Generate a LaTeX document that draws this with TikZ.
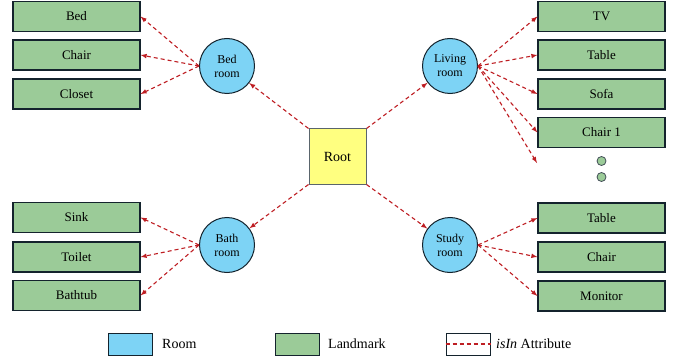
\documentclass[tikz,border=0pt]{standalone}
\usepackage{fontspec}
\setmainfont{Liberation Serif}
\definecolor{roomblue}{RGB}{125,211,245}
\definecolor{markgreen}{RGB}{155,203,152}
\definecolor{rootyellow}{RGB}{255,255,128}
\definecolor{linkred}{RGB}{190,30,35}
\definecolor{edgeline}{RGB}{20,35,45}

\begin{document}
\begin{tikzpicture}[x=1pt,y=-1pt]
        \useasboundingbox (0,0) rectangle (684,358);
        \tikzstyle{every node}=[font=\fontsize{13}{15}\selectfont, inner sep=0pt]
        \tikzstyle{landmark}=[draw=edgeline, fill=markgreen, line width=1.1pt, minimum width=127pt, minimum height=30pt]
        \tikzstyle{room}=[circle, draw=edgeline, fill=roomblue, line width=1pt, minimum size=55pt, align=center, font=\fontsize{12}{14}\selectfont]
        \tikzstyle{link}=[draw=linkred, line width=1.1pt, dash pattern=on 4pt off 3pt, -latex]
        % root and rooms
        \node[draw=edgeline!70, fill=rootyellow, line width=1pt, minimum width=57pt, minimum height=55pt, font=\fontsize{14}{16}\selectfont] (root) at (337.5,156.5) {Root};
        \node[room] (bedroom)    at (227, 66) {Bed\\room};
        \node[room] (livingroom) at (450, 66) {Living\\room};
        \node[room] (bathroom)   at (227,245) {Bath\\room};
        \node[room] (studyroom)  at (450,245) {Study\\room};
        % landmarks
        \node[landmark] (bed)     at (76.5, 16.5) {Bed};
        \node[landmark] (chair)   at (76.5, 55)   {Chair};
        \node[landmark] (closet)  at (76.5, 94)   {Closet};
        \node[landmark] (tv)      at (601.5, 16.5) {TV};
        \node[landmark] (table)   at (601.5, 55)   {Table};
        \node[landmark] (sofa)    at (601.5, 94)   {Sofa};
        \node[landmark] (chairone) at (601.5,132.5) {Chair 1};
        \node[circle, draw=edgeline!80, fill=markgreen, line width=0.8pt, minimum size=9pt] (dotA) at (601.5,161) {};
        \node[circle, draw=edgeline!80, fill=markgreen, line width=0.8pt, minimum size=9pt] (dotB) at (601.5,177) {};
        \coordinate (more) at (537,163);
        \node[landmark] (sink)    at (76.5,217.5) {Sink};
        \node[landmark] (toilet)  at (76.5,257)   {Toilet};
        \node[landmark] (bathtub) at (76.5,295.5) {Bathtub};
        \node[landmark] (desk)    at (601.5,218)  {Table};
        \node[landmark] (seat)    at (601.5,257)  {Chair};
        \node[landmark] (monitor) at (601.5,296)  {Monitor};
        % isIn links
        \draw[link] (root.north west) -- (bedroom);
        \draw[link] (root.north east) -- (livingroom);
        \draw[link] (root.south west) -- (bathroom);
        \draw[link] (root.south east) -- (studyroom);
        \foreach \lm in {bed,chair,closet}
            \draw[link] (bedroom.west) -- (\lm.east);
        \foreach \lm in {tv,table,sofa,chairone}
            \draw[link] (livingroom.east) -- (\lm.west);
        \draw[link] (livingroom.east) -- (more);
        \foreach \lm in {sink,toilet,bathtub}
            \draw[link] (bathroom.west) -- (\lm.east);
        \foreach \lm in {desk,seat,monitor}
            \draw[link] (studyroom.east) -- (\lm.west);
        % legend
        \tikzstyle{every node}=[inner sep=0pt, minimum width=44pt, minimum height=22pt, line width=1pt, draw=edgeline]
        \node[fill=roomblue]  (keyroom) at (130,344) {};
        \node[fill=markgreen] (keymark) at (297,344) {};
        \node[fill=white]     (keylink) at (468,344) {};
        \tikzstyle{every node}=[font=\fontsize{14}{16}\selectfont, inner sep=0pt]
        \node[anchor=west] (keyroomtext) at (162,344) {Room};
        \node[anchor=west] (keymarktext) at (328,344) {Landmark};
        \node[anchor=west] (keylinktext) at (496,344) {\textit{isIn} Attribute};
        \draw[draw=linkred, line width=1.1pt, dash pattern=on 4pt off 3pt] (keylink.west) -- (keylink.east);
    \end{tikzpicture}
\end{document}
